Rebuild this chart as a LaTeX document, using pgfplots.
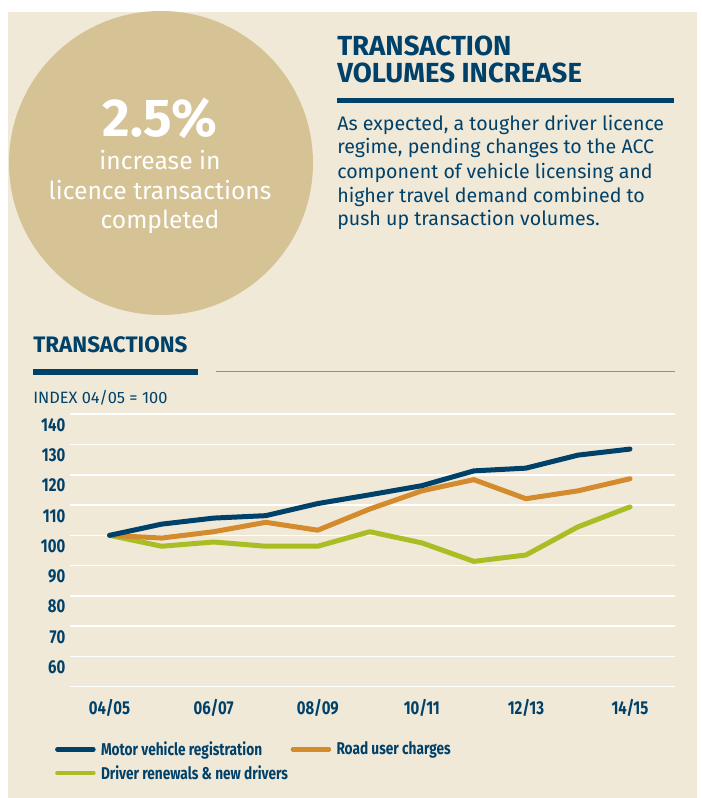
\documentclass[border=0pt]{standalone}
\usepackage{fontspec}
\setmainfont{Fira Sans}
\newfontfamily\narrow{Fira Sans}[FakeStretch=0.8]
\usepackage{pgfplots}
\pgfplotsset{compat=1.18}

\definecolor{bg}{HTML}{F1E9D8}
\definecolor{disc}{HTML}{D5C395}
\definecolor{navy}{HTML}{00416A}
\definecolor{rust}{HTML}{D38B2E}
\definecolor{lime}{HTML}{A9BE24}
\definecolor{rule}{HTML}{7A95A5}

% one unit = one pixel of the 701x798 reference
\begin{document}
\begin{tikzpicture}[x=0.75pt,y=0.75pt]
  \fill[white] (0,0) rectangle (701,798);
  \fill[bg] (8,0) rectangle (697,786);
  \begin{scope}
    \clip (8,0) rectangle (697,786);
    \fill[disc] (161,635) circle[radius=152];
  \end{scope}

  % text in the disc
  \node[white,anchor=base,inner sep=0pt,font=\fontsize{40}{40}\selectfont\bfseries] at (160,661.3) {2.5\%};
  \node[white,anchor=base,inner sep=0pt,font=\fontsize{18.5}{20}\selectfont] at (160,628) {increase in};
  \node[white,anchor=base,inner sep=0pt,font=\fontsize{18.5}{20}\selectfont] at (160,598.7) {licence transactions};
  \node[white,anchor=base,inner sep=0pt,font=\fontsize{18.5}{20}\selectfont] at (160,569.7) {completed};

  % heading and paragraph
  \begin{scope}[every node/.style={navy,anchor=base west,inner sep=0pt}]
    \node[font=\fontsize{20.7}{22}\selectfont\bfseries] at (337,742) {TRANSACTION};
    \node[font=\fontsize{20.7}{22}\selectfont\bfseries] at (337,715.3) {VOLUMES INCREASE};
    \node[font=\fontsize{14.7}{16}\selectfont] at (337,667.3) {As expected, a tougher driver licence};
    \node[font=\fontsize{14.7}{16}\selectfont] at (337,644) {regime, pending changes to the ACC};
    \node[font=\fontsize{14.7}{16}\selectfont] at (337,619.7) {component of vehicle licensing and};
    \node[font=\fontsize{14.7}{16}\selectfont] at (337,595.7) {higher travel demand combined to};
    \node[font=\fontsize{14.7}{16}\selectfont] at (337,572) {push up transaction volumes.};
    \node[font=\fontsize{16.8}{18}\selectfont\bfseries] at (33,445) {TRANSACTIONS};
    \node[font=\fontsize{12.3}{13}\selectfont] at (33,394) {INDEX 04/05 = 100};
  \end{scope}
  \draw[navy,line width=3.75pt] (337,697.5) -- (674,697.5);
  \draw[navy,line width=4.5pt] (33,426) -- (198,426);
  \draw[rule,line width=0.9pt] (216,426.3) -- (675,426.3);

  \begin{axis}[
    at={(52.5pt,83.5pt)}, anchor=south west,
    scale only axis, width=453.75pt, height=204.3pt,
    xmin=-0.761, xmax=10.865, ymin=50, ymax=140,
    axis line style={draw=none}, tick style={draw=none},
    xtick={0,2,4,6,8,10},
    xticklabels={04/05,06/07,08/09,10/11,12/13,14/15},
    ytick={50,60,...,140},
    yticklabels={,60,70,80,90,100,110,120,130,140},
    ymajorgrids, major grid style={white,line width=1.2pt},
    ticklabel style={navy,font=\narrow\fontsize{14}{15}\selectfont\bfseries},
    yticklabel style={yshift=-8pt},
    xticklabel style={yshift=-6pt},
    /pgf/number format/assume math mode=true,
    legend columns=2,
    legend cell align=left,
    legend style={at={(-0.025,-0.19)}, anchor=north west, draw=none, fill=none,
      inner sep=0pt, font=\narrow\fontsize{12.8}{14}\selectfont\bfseries, text=navy,
      /tikz/every odd column/.append style={column sep=2pt},
      /tikz/every even column/.append style={column sep=0pt},
      row sep=2pt},
    legend image code/.code={\draw[#1,line cap=round,line width=3.4pt] (0pt,0pt) -- (27pt,0pt);},
    every axis plot/.append style={line width=3.75pt, line join=round, line cap=round},
  ]
    \addlegendimage{navy}
    \addlegendentry{Motor vehicle registration}
    \addlegendimage{rust}
    \addlegendentry{Road user charges}
    \addlegendimage{lime}
    \addlegendentry{Driver renewals \& new drivers}

    % Driver renewals & new drivers
    \addplot[lime, forget plot] coordinates {
      (0,100) (1,96.4) (2,97.8) (3,96.4) (4,96.4) (5,101.2)
      (6,97.5) (7,91.4) (8,93.5) (9,102.8) (10,109.4)};
    % Road user charges
    \addplot[rust, forget plot] coordinates {
      (0,100) (1,99.1) (2,101.2) (3,104.3) (4,101.7) (5,108.7)
      (6,114.7) (7,118.4) (8,112.1) (9,114.7) (10,118.7)};
    % Motor vehicle registration
    \addplot[navy, forget plot] coordinates {
      (0,100) (1,103.7) (2,105.7) (3,106.5) (4,110.5) (5,113.4)
      (6,116.4) (7,121.3) (8,122.2) (9,126.5) (10,128.5)};
  \end{axis}
\end{tikzpicture}
\end{document}
